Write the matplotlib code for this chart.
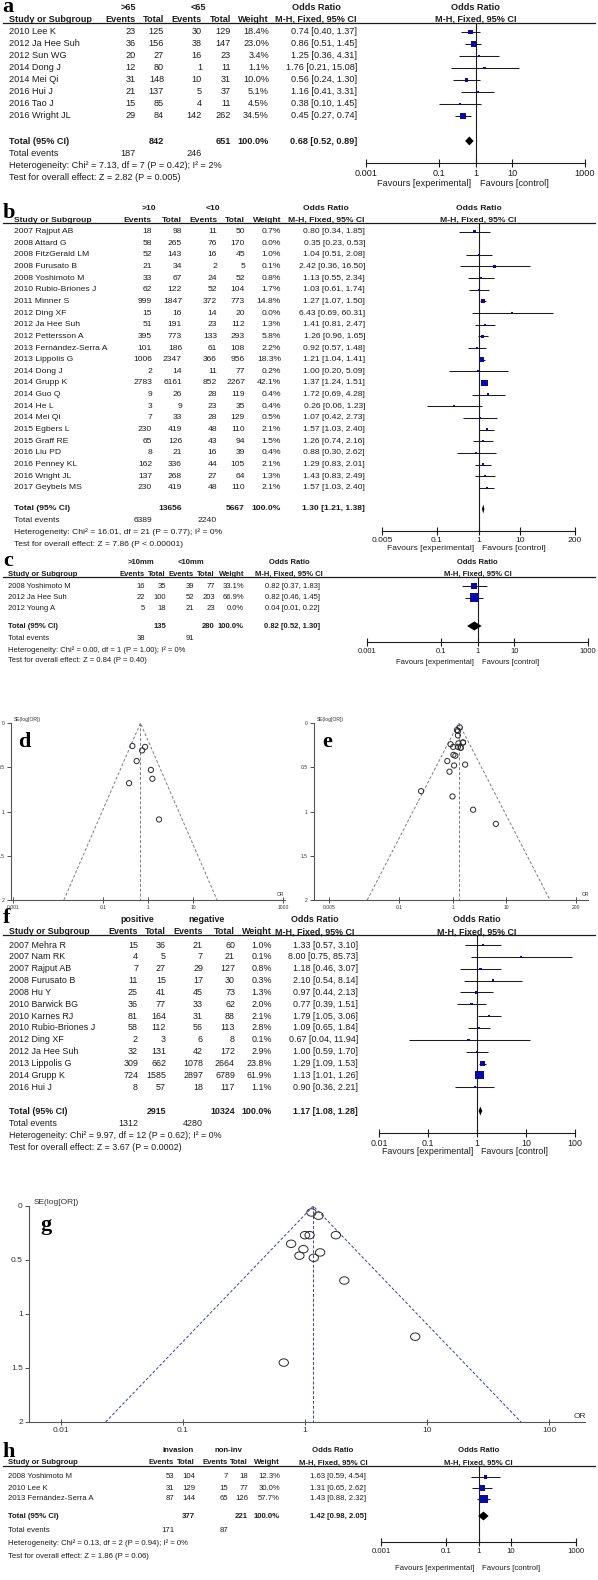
import numpy as np
import matplotlib
matplotlib.use('Agg')
import matplotlib.pyplot as plt
from matplotlib.ticker import NullLocator
from matplotlib.path import Path

plt.rcParams['font.family'] = ['Liberation Sans', 'DejaVu Sans']

W, H = 598, 1580
INK = '#1c1c1c'
BLUE = '#0a0aa8'

# ---- panel a: age >65 vs <65
studies_a = ["2010 Lee K", "2012 Ja Hee Suh", "2012 Sun WG", "2014 Dong J",
             "2014 Mei Qi", "2016 Hui J", "2016 Tao J", "2016 Wright JL"]
ev1_a = [23, 36, 20, 12, 31, 21, 15, 29]
tot1_a = [125, 156, 27, 80, 148, 137, 85, 84]
ev2_a = [30, 38, 16, 1, 10, 5, 4, 142]
tot2_a = [129, 147, 23, 11, 31, 37, 11, 262]
wt_a = [18.4, 23.0, 3.4, 1.1, 10.0, 5.1, 4.5, 34.5]
or_a = [0.74, 0.86, 1.25, 1.76, 0.56, 1.16, 0.38, 0.45]
lo_a = [0.40, 0.51, 0.36, 0.21, 0.24, 0.41, 0.10, 0.27]
hi_a = [1.37, 1.45, 4.31, 15.08, 1.30, 3.31, 1.45, 0.74]

# ---- panel b: >10 vs <10
studies_b = ["2007 Rajput AB", "2008 Attard G", "2008 FitzGerald LM", "2008 Furusato B",
             "2008 Yoshimoto M", "2010 Rubio-Briones J", "2011 Minner S", "2012 Ding XF",
             "2012 Ja Hee Suh", "2012 Pettersson A", "2013 Fernández-Serra A", "2013 Lippolis G",
             "2014 Dong J", "2014 Grupp K", "2014 Guo Q", "2014 He L", "2014 Mei Qi",
             "2015 Egbers L", "2015 Graff RE", "2016 Liu PD", "2016 Penney KL",
             "2016 Wright JL", "2017 Geybels MS"]
ev1_b = [18, 58, 52, 21, 33, 62, 999, 15, 51, 395, 101, 1006, 2, 2783, 9, 3, 7, 230, 65, 8, 162, 137, 230]
tot1_b = [98, 265, 143, 34, 67, 122, 1847, 16, 191, 773, 186, 2347, 14, 6161, 26, 9, 33, 419, 126, 21, 336, 268, 419]
ev2_b = [11, 76, 16, 2, 24, 52, 372, 14, 23, 133, 61, 366, 11, 852, 28, 23, 28, 48, 43, 16, 44, 27, 48]
tot2_b = [50, 170, 45, 5, 52, 104, 773, 20, 112, 293, 108, 956, 77, 2267, 119, 35, 129, 110, 94, 39, 105, 64, 110]
wt_b = [0.7, 0.0, 1.0, 0.1, 0.8, 1.7, 14.8, 0.0, 1.3, 5.8, 2.2, 18.3, 0.2, 42.1, 0.4, 0.4, 0.5, 2.1, 1.5, 0.4, 2.1, 1.3, 2.1]
or_b = [0.80, 0.35, 1.04, 2.42, 1.13, 1.03, 1.27, 6.43, 1.41, 1.26, 0.92, 1.21, 1.00, 1.37, 1.72, 0.26, 1.07, 1.57, 1.26, 0.88, 1.29, 1.43, 1.57]
lo_b = [0.34, 0.23, 0.51, 0.36, 0.55, 0.61, 1.07, 0.69, 0.81, 0.96, 0.57, 1.04, 0.20, 1.24, 0.69, 0.06, 0.42, 1.03, 0.74, 0.30, 0.83, 0.83, 1.03]
hi_b = [1.85, 0.53, 2.08, 16.50, 2.34, 1.74, 1.50, 60.31, 2.47, 1.65, 1.48, 1.41, 5.09, 1.51, 4.28, 1.23, 2.73, 2.40, 2.16, 2.62, 2.01, 2.49, 2.40]
drawn_b = [True, False] + [True] * 21

# ---- panel c: >10mm vs <10mm
studies_c = ["2008 Yoshimoto M", "2012 Ja Hee Suh", "2012 Young A"]
ev1_c = [16, 22, 5]
tot1_c = [35, 100, 18]
ev2_c = [39, 52, 21]
tot2_c = [77, 203, 23]
wt_c = [33.1, 66.9, 0.0]
or_c = [0.82, 0.82, 0.04]
lo_c = [0.37, 0.46, 0.01]
hi_c = [1.83, 1.45, 0.22]
drawn_c = [True, True, False]

# ---- panel f: positive vs negative
studies_f = ["2007 Mehra R", "2007 Nam RK", "2007 Rajput AB", "2008 Furusato B", "2008 Hu Y",
             "2010 Barwick BG", "2010 Karnes RJ", "2010 Rubio-Briones J", "2012 Ding XF",
             "2012 Ja Hee Suh", "2013 Lippolis G", "2014 Grupp K", "2016 Hui J"]
ev1_f = [15, 4, 7, 11, 25, 36, 81, 58, 2, 32, 309, 724, 8]
tot1_f = [36, 5, 27, 15, 41, 77, 164, 112, 3, 131, 662, 1585, 57]
ev2_f = [21, 7, 29, 17, 45, 33, 31, 56, 6, 42, 1078, 2897, 18]
tot2_f = [60, 21, 127, 30, 73, 62, 88, 113, 8, 172, 2664, 6789, 117]
wt_f = [1.0, 0.1, 0.8, 0.3, 1.3, 2.0, 2.1, 2.8, 0.1, 2.9, 23.8, 61.9, 1.1]
or_f = [1.33, 8.00, 1.18, 2.10, 0.97, 0.77, 1.79, 1.09, 0.67, 1.00, 1.29, 1.13, 0.90]
lo_f = [0.57, 0.75, 0.46, 0.54, 0.44, 0.39, 1.05, 0.65, 0.04, 0.59, 1.09, 1.01, 0.36]
hi_f = [3.10, 85.73, 3.07, 8.14, 2.13, 1.51, 3.06, 1.84, 11.94, 1.70, 1.53, 1.26, 2.21]

# ---- panel h: invasion vs non-inv
studies_h = ["2008 Yoshimoto M", "2010 Lee K", "2013 Fernández-Serra A"]
ev1_h = [53, 31, 87]
tot1_h = [104, 129, 144]
ev2_h = [7, 15, 65]
tot2_h = [18, 77, 126]
wt_h = [12.3, 30.0, 57.7]
or_h = [1.63, 1.31, 1.43]
lo_h = [0.59, 0.65, 0.88]
hi_h = [4.54, 2.62, 2.32]

fun_or_d = [0.74, 0.86, 1.25, 1.76, 0.56, 1.16, 0.38, 0.45]
fun_se_d = [0.31, 0.27, 0.63, 1.09, 0.43, 0.53, 0.68, 0.26]
fun_or_e = [0.80, 1.04, 2.42, 1.13, 1.03, 1.27, 6.43, 1.41, 1.26, 0.92, 1.21,
            1.00, 1.37, 1.72, 0.26, 1.07, 1.57, 1.26, 0.88, 1.29, 1.43, 1.57]
fun_se_e = [0.43, 0.36, 0.98, 0.37, 0.27, 0.09, 1.14, 0.28, 0.14, 0.24, 0.08,
            0.83, 0.05, 0.47, 0.77, 0.48, 0.22, 0.27, 0.55, 0.23, 0.28, 0.22]
fun_or_g = [1.33, 8.00, 1.18, 2.10, 0.97, 0.77, 1.79, 1.09, 0.67, 1.00, 1.29, 1.13, 0.90]
fun_se_g = [0.43, 1.21, 0.48, 0.69, 0.40, 0.35, 0.27, 0.27, 1.45, 0.27, 0.09, 0.06, 0.46]

panels = {
    'a': dict(groups=[">65", "<65"], studies=studies_a, ev1=ev1_a, tot1=tot1_a, ev2=ev2_a, tot2=tot2_a,
              wt=wt_a, orv=or_a, lo=lo_a, hi=hi_a, drawn=[True] * 8,
              tot_n=[842, 651], tot_ev=[187, 246], pooled=[0.68, 0.52, 0.89],
              het="Heterogeneity: Chi² = 7.13, df = 7 (P = 0.42); I² = 2%",
              test="Test for overall effect: Z = 2.82 (P = 0.005)"),
    'b': dict(groups=[">10", "<10"], studies=studies_b, ev1=ev1_b, tot1=tot1_b, ev2=ev2_b, tot2=tot2_b,
              wt=wt_b, orv=or_b, lo=lo_b, hi=hi_b, drawn=drawn_b,
              tot_n=[13656, 5667], tot_ev=[6389, 2240], pooled=[1.30, 1.21, 1.38],
              het="Heterogeneity: Chi² = 16.01, df = 21 (P = 0.77); I² = 0%",
              test="Test for overall effect: Z = 7.86 (P < 0.00001)"),
    'c': dict(groups=[">10mm", "<10mm"], studies=studies_c, ev1=ev1_c, tot1=tot1_c, ev2=ev2_c, tot2=tot2_c,
              wt=wt_c, orv=or_c, lo=lo_c, hi=hi_c, drawn=drawn_c,
              tot_n=[135, 280], tot_ev=[38, 91], pooled=[0.82, 0.52, 1.30],
              het="Heterogeneity: Chi² = 0.00, df = 1 (P = 1.00); I² = 0%",
              test="Test for overall effect: Z = 0.84 (P = 0.40)"),
    'f': dict(groups=["positive", "negative"], studies=studies_f, ev1=ev1_f, tot1=tot1_f, ev2=ev2_f, tot2=tot2_f,
              wt=wt_f, orv=or_f, lo=lo_f, hi=hi_f, drawn=[True] * 13,
              tot_n=[2915, 10324], tot_ev=[1312, 4280], pooled=[1.17, 1.08, 1.28],
              het="Heterogeneity: Chi² = 9.97, df = 12 (P = 0.62); I² = 0%",
              test="Test for overall effect: Z = 3.67 (P = 0.0002)"),
    'h': dict(groups=["invasion", "non-inv"], studies=studies_h, ev1=ev1_h, tot1=tot1_h, ev2=ev2_h, tot2=tot2_h,
              wt=wt_h, orv=or_h, lo=lo_h, hi=hi_h, drawn=[True] * 3,
              tot_n=[377, 221], tot_ev=[171, 87], pooled=[1.42, 0.98, 2.05],
              het="Heterogeneity: Chi² = 0.13, df = 2 (P = 0.94); I² = 0%",
              test="Test for overall effect: Z = 1.86 (P = 0.06)"),
}

# pixel layout of each forest panel
layouts = {
    'a': dict(fs=6.6, lab=(2, 12), grp_x=[128, 198], y_grp=7, y_head=19, y_line=22.5, y_row0=32, dy=12.0,
              y_tot=141, y_tev=153, y_het=165, y_test=177, y_axis=163, y_fav=183,
              x_study=9, cols=[136, 164, 202, 231, 269], x_or=357, x_orh=316,
              fx=(366, 585), ticks=[0.001, 0.1, 1, 10, 1000]),
    'b': dict(fs=6.1, lab=(3, 218), grp_x=[149, 213], y_grp=209, y_head=220, y_line=222.5, y_row0=231.5, dy=11.65,
              y_tot=509, y_tev=521, y_het=532.5, y_test=544, y_axis=531, y_fav=549,
              x_study=14, cols=[152, 182, 217, 245, 281], x_or=365, x_orh=326,
              fx=(382, 575), ticks=[0.005, 0.1, 1, 10, 200]),
    'c': dict(fs=5.5, lab=(3, 566), grp_x=[141, 191], y_grp=562, y_head=574, y_line=577, y_row0=586, dy=11.5,
              y_tot=626, y_tev=638, y_het=650, y_test=661, y_axis=642, y_fav=662,
              x_study=8, cols=[145, 166, 194, 215, 244], x_or=320, x_orh=289,
              fx=(367, 588), ticks=[0.001, 0.1, 1, 10, 1000]),
    'f': dict(fs=6.4, lab=(3, 923), grp_x=[137, 207], y_grp=919, y_head=932, y_line=935, y_row0=945, dy=11.85,
              y_tot=1111, y_tev=1124, y_het=1136, y_test=1148, y_axis=1133, y_fav=1151,
              x_study=9, cols=[138, 166, 203, 235, 272], x_or=358, x_orh=315,
              fx=(379, 575), ticks=[0.01, 0.1, 1, 10, 100]),
    'h': dict(fs=5.6, lab=(2, 1457), grp_x=[178, 228], y_grp=1451, y_head=1463, y_line=1466, y_row0=1477, dy=11.0,
              y_tot=1516, y_tev=1531, y_het=1543, y_test=1556, y_axis=1542, y_fav=1568,
              x_study=8, cols=[174, 195, 228, 248, 280], x_or=366, x_orh=333,
              fx=(381, 576), ticks=[0.001, 0.1, 1, 10, 1000]),
}

fig = plt.figure(figsize=(W / 100, H / 100), dpi=100)
fig.patch.set_facecolor('white')
base = fig.add_axes([0, 0, 1, 1])
base.set_xlim(0, W)
base.set_ylim(H, 0)
base.axis('off')


def px_axes(x0, y0, x1, y1):
    a = fig.add_axes([x0 / W, 1 - y1 / H, (x1 - x0) / W, (y1 - y0) / H])
    a.patch.set_alpha(0)
    return a


def panel_label(x, y, s):
    base.text(x, y, s, fontsize=16, fontweight='bold', family=['Liberation Serif'],
              ha='left', va='baseline', color='black')


def forest(key):
    d, L = panels[key], layouts[key]
    fs = L['fs']
    txt = dict(fontsize=fs, color=INK, va='center')
    bld = dict(txt, fontweight='bold')
    panel_label(L['lab'][0], L['lab'][1], key)

    t0, t1 = L['ticks'][0], L['ticks'][-1]
    fx0, fx1 = L['fx']
    x_one = fx0 + (0 - np.log10(t0)) / (np.log10(t1) - np.log10(t0)) * (fx1 - fx0)

    for gx, g in zip(L['grp_x'], d['groups']):
        base.text(gx, L['y_grp'], g, ha='center', **bld)
    base.text(L['x_study'], L['y_head'], "Study or Subgroup", ha='left', **bld)
    for cx, h in zip(L['cols'], ["Events", "Total", "Events", "Total", "Weight"]):
        base.text(cx, L['y_head'], h, ha='right', **bld)
    for xc in (L['x_orh'], x_one):
        base.text(xc, L['y_grp'], "Odds Ratio", ha='center', **bld)
        base.text(xc, L['y_head'], "M-H, Fixed, 95% CI", ha='center', **bld)
    base.plot([3, 595], [L['y_line']] * 2, color=INK, lw=0.9)

    n = len(d['studies'])
    ys = L['y_row0'] + L['dy'] * np.arange(n)
    for i in range(n):
        y = ys[i]
        base.text(L['x_study'], y, d['studies'][i], ha='left', **txt)
        vals = [d['ev1'][i], d['tot1'][i], d['ev2'][i], d['tot2'][i], f"{d['wt'][i]:.1f}%"]
        for cx, v in zip(L['cols'], vals):
            base.text(cx, y, str(v), ha='right', **txt)
        base.text(L['x_or'], y, f"{d['orv'][i]:.2f} [{d['lo'][i]:.2f}, {d['hi'][i]:.2f}]", ha='right', **txt)

    p, lo, hi = d['pooled']
    base.text(L['x_study'], L['y_tot'], "Total (95% CI)", ha='left', **bld)
    base.text(L['cols'][1], L['y_tot'], str(d['tot_n'][0]), ha='right', **bld)
    base.text(L['cols'][3], L['y_tot'], str(d['tot_n'][1]), ha='right', **bld)
    base.text(L['cols'][4], L['y_tot'], "100.0%", ha='right', **bld)
    base.text(L['x_or'], L['y_tot'], f"{p:.2f} [{lo:.2f}, {hi:.2f}]", ha='right', **bld)
    base.text(L['x_study'], L['y_tev'], "Total events", ha='left', **txt)
    base.text(L['cols'][0], L['y_tev'], str(d['tot_ev'][0]), ha='right', **txt)
    base.text(L['cols'][2], L['y_tev'], str(d['tot_ev'][1]), ha='right', **txt)
    base.text(L['x_study'], L['y_het'], d['het'], ha='left', **txt)
    base.text(L['x_study'], L['y_test'], d['test'], ha='left', **txt)
    base.text(x_one - 4, L['y_fav'], "Favours [experimental]", ha='right', **txt)
    base.text(x_one + 4, L['y_fav'], "Favours [control]", ha='left', **txt)

    # graphic part
    ax = px_axes(fx0, L['y_line'], fx1, L['y_axis'])
    ax.set_xscale('log')
    ax.set_xlim(t0, t1)
    ax.set_ylim(L['y_axis'], L['y_line'])
    ax.axvline(1, color=INK, lw=0.8)
    m = np.array(d['drawn'])
    orv, lov, hiv = np.array(d['orv']), np.array(d['lo']), np.array(d['hi'])
    side = np.maximum(2.2, 1.05 * np.sqrt(np.array(d['wt']))) * 0.72
    ax.hlines(ys[m], lov[m], hiv[m], color=INK, lw=0.75, zorder=2)
    ax.scatter(orv[m], ys[m], marker='s', s=side[m] ** 2, color=BLUE, lw=0, zorder=3)
    yt = L['y_tot']
    ax.fill([lo, p, hi, p], [yt, yt - 4.5, yt, yt + 4.5], color='black', lw=0, zorder=3)
    for s in ('top', 'left', 'right'):
        ax.spines[s].set_visible(False)
    ax.spines['bottom'].set_linewidth(0.8)
    ax.spines['bottom'].set_color(INK)
    ax.set_xticks(L['ticks'])
    ax.set_xticklabels([f"{t:g}" for t in L['ticks']])
    ax.xaxis.set_minor_locator(NullLocator())
    ax.tick_params(axis='x', direction='inout', length=6, width=0.8, labelsize=fs, pad=1.2,
                   colors=INK)
    ax.set_yticks([])


# slightly wide open ellipse, as in the RevMan funnel plots
_circ = Path.unit_circle()
ELLIPSE = Path(_circ.vertices * np.array([1.25, 1.0]), _circ.codes)


def funnel(orv, se, pooled, x0, x1, y0, y1, ticks, tick_px, fs, msize, marker, lcol, se_lab, or_lab):
    ax = px_axes(x0, y0, x1, y1)
    ax.set_xscale('log')
    l0, l1 = np.log10(ticks[0]), np.log10(ticks[-1])
    dpp = (l1 - l0) / (tick_px[1] - tick_px[0])
    ax.set_xlim(10 ** (l0 - (tick_px[0] - x0) * dpp), 10 ** (l1 + (x1 - tick_px[1]) * dpp))
    ax.set_ylim(2, 0)
    ax.plot([pooled, pooled], [0, 2], ls=(0, (3, 2)), color=lcol, lw=0.7)
    ax.plot([pooled * np.exp(-1.96 * 2), pooled, pooled * np.exp(1.96 * 2)], [2, 0, 2],
            ls=(0, (3, 2)), color=lcol, lw=0.7)
    ax.scatter(orv, se, s=msize, marker=marker, facecolors='none', edgecolors='#2a2a2a',
               lw=0.7, zorder=3)
    for s in ('top', 'right'):
        ax.spines[s].set_visible(False)
    for s in ('left', 'bottom'):
        ax.spines[s].set_color('#555555')
        ax.spines[s].set_linewidth(0.8)
    ax.set_xticks(ticks)
    ax.set_xticklabels([f"{t:g}" for t in ticks])
    ax.xaxis.set_minor_locator(NullLocator())
    ax.set_yticks([0, 0.5, 1, 1.5, 2])
    ax.set_yticklabels(['0', '0.5', '1', '1.5', '2'])
    ax.tick_params(axis='both', labelsize=fs, length=3, width=0.6, pad=1.5, colors='#333333')
    ax.tick_params(axis='x', direction='inout', length=4)
    base.text(se_lab[0], se_lab[1], "SE(log[OR])", fontsize=fs, color='#333333', ha='left', va='center')
    base.text(or_lab[0], or_lab[1], "OR", fontsize=fs, color='#333333', ha='left', va='center')


for k in ['a', 'b', 'c', 'f', 'h']:
    forest(k)

funnel(fun_or_d, fun_se_d, 0.68, 11, 285, 723, 900, [0.001, 0.1, 1, 10, 1000], (13, 283),
       3.6, 14, 'o', '#7a7a8a', (14, 719), (277, 895))
panel_label(18, 747, 'd')
funnel(fun_or_e, fun_se_e, 1.30, 314, 588, 723, 900, [0.005, 0.1, 1, 10, 200], (329, 576),
       3.6, 14, 'o', '#7a7a8a', (317, 719), (582, 895))
panel_label(322, 747, 'e')
funnel(fun_or_g, fun_se_g, 1.17, 29, 585, 1206, 1422, [0.01, 0.1, 1, 10, 100], (61, 549),
       6.0, 45, ELLIPSE, '#3a3ab0', (34, 1203), (574, 1417))
panel_label(40, 1230, 'g')

fig.savefig('out.png', dpi=100, facecolor='white')
